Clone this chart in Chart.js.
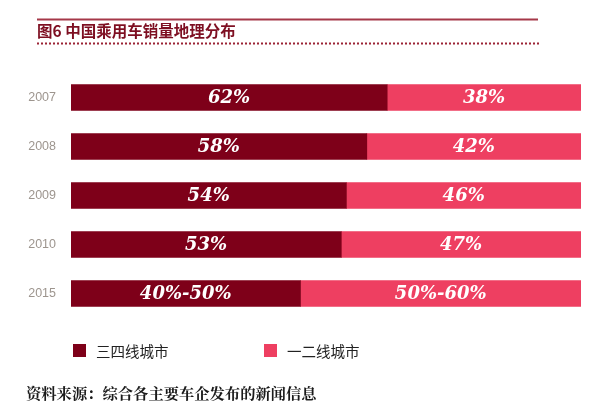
<!DOCTYPE html>
<html>
<head>
<meta charset="utf-8">
<script src="https://cdn.jsdelivr.net/npm/chart.js@4"></script>
<style>
  html, body { margin: 0; padding: 0; background: #fff; }
  #wrap { position: relative; width: 600px; height: 417px; }
</style>
</head>
<body>
<div id="wrap"><canvas id="myBarChart"></canvas></div>
<script>
// data
const years = ['2007', '2008', '2009', '2010', '2015'];
const tierThreeFour = [62, 58, 54, 53, 45];   // 三四线城市 share
const tierOneTwo = [38, 42, 46, 47, 55];      // 一二线城市 share
const tierThreeFourText = ['62%', '58%', '54%', '53%', '40%-50%'];
const tierOneTwoText = ['38%', '42%', '46%', '47%', '50%-60%'];
const seriesNames = ['三四线城市', '一二线城市'];

const titleText = '图6 中国乘用车销量地理分布';
const sourceText = '资料来源：综合各主要车企发布的新闻信息';

const darkRed = '#7e0019';
const pinkRed = '#ee3f61';
const cjk = '"Noto Sans CJK SC", "Noto Sans", sans-serif';

// white labels inside each bar segment
const barText = {
    id: 'barText',
    afterDatasetsDraw(chart) {
        const ctx = chart.ctx;
        const texts = [tierThreeFourText, tierOneTwoText];
        ctx.save();
        ctx.fillStyle = '#ffffff';
        ctx.font = 'italic bold 18px "DejaVu Serif", serif';
        ctx.textAlign = 'center';
        ctx.textBaseline = 'middle';
        chart.data.datasets.forEach((ds, i) => {
            const meta = chart.getDatasetMeta(i);
            meta.data.forEach((bar, j) => {
                const p = bar.getProps(['x', 'y', 'base'], true);
                ctx.fillText(texts[i][j], (p.x + p.base) / 2, p.y + 0.5);
            });
        });
        ctx.restore();
    }
};

// title with rules, legend and source line
const frame = {
    id: 'frame',
    afterDraw(chart) {
        const ctx = chart.ctx;
        ctx.save();

        ctx.strokeStyle = '#a53849';
        ctx.lineWidth = 2;
        ctx.beginPath();
        ctx.moveTo(37, 19.5);
        ctx.lineTo(538, 19.5);
        ctx.stroke();

        ctx.fillStyle = '#7e0f22';
        ctx.font = 'bold 15.5px ' + cjk;
        ctx.textBaseline = 'middle';
        ctx.textAlign = 'left';
        ctx.fillText(titleText, 37, 31);

        ctx.strokeStyle = '#9b2335';
        ctx.setLineDash([2, 2]);
        ctx.beginPath();
        ctx.moveTo(37, 43.5);
        ctx.lineTo(540, 43.5);
        ctx.stroke();
        ctx.setLineDash([]);

        // legend
        const legendX = [73, 264];
        ctx.font = '14.5px ' + cjk;
        chart.data.datasets.forEach((ds, i) => {
            ctx.fillStyle = ds.backgroundColor;
            ctx.fillRect(legendX[i], 344, 13, 13);
            ctx.fillStyle = '#222222';
            ctx.fillText(ds.label, legendX[i] + 23, 351);
        });

        ctx.fillStyle = '#1a1a1a';
        ctx.font = 'bold 15.3px "Noto Serif CJK SC", ' + cjk;
        ctx.fillText(sourceText, 26, 393);

        ctx.restore();
    }
};

const ctx = document.getElementById('myBarChart').getContext('2d');
const myChart = new Chart(ctx, {
    type: 'bar',
    data: {
        labels: years,
        datasets: [
            { label: seriesNames[0], data: tierThreeFour, backgroundColor: darkRed, barThickness: 26 },
            { label: seriesNames[1], data: tierOneTwo, backgroundColor: pinkRed, barThickness: 26 }
        ]
    },
    options: {
        indexAxis: 'y',
        responsive: true,
        maintainAspectRatio: false,
        animation: false,
        layout: { padding: { top: 73, bottom: 99, left: 20, right: 19 } },
        scales: {
            x: { stacked: true, min: 0, max: 100, display: false },
            y: {
                stacked: true,
                grid: { display: false, drawTicks: false },
                border: { display: false },
                ticks: {
                    color: '#9d958e',
                    padding: 15,
                    font: { family: '"Liberation Sans", Arial, sans-serif', size: 12.5 }
                },
                afterFit(scale) { scale.width = 51; }
            }
        },
        plugins: {
            legend: { display: false },
            tooltip: { enabled: false }
        }
    },
    plugins: [barText, frame]
});
</script>
</body>
</html>
